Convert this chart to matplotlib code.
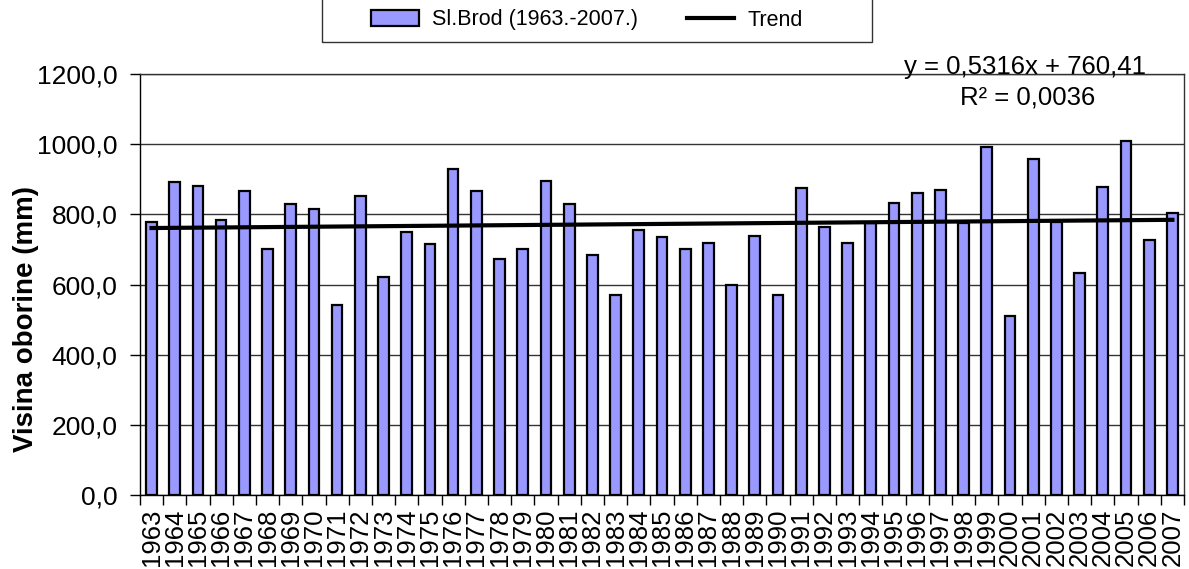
import numpy as np
import matplotlib
matplotlib.use('Agg')
from matplotlib import pyplot as plt
from matplotlib.patches import Rectangle

plt.rcParams['font.family'] = ['Liberation Sans', 'DejaVu Sans']

# yearly precipitation, Sl. Brod
years = list(range(1963, 2008))
precip = [779, 892, 881, 783, 867, 702, 830, 815, 541, 851,
          622, 749, 716, 928, 867, 672, 702, 895, 830, 683,
          570, 755, 735, 702, 719, 599, 738, 570, 876, 765,
          719, 774, 833, 862, 869, 776, 993, 510, 957, 779,
          632, 877, 1008, 727, 803]

# trend line from the chart label
slope = 0.5316
intercept = 760.41
eq_text = 'y = 0,5316x + 760,41'
r2_text = 'R² = 0,0036'

y_ticks = [0, 200, 400, 600, 800, 1000, 1200]

fig = plt.figure(figsize=(11.89, 5.69), dpi=100)
ax = fig.add_axes([0.1177, 0.130, 0.8781, 0.740])

x = np.arange(len(years))
bars = ax.bar(x, precip, width=0.46, color='#9999FF', edgecolor='black', linewidth=1.6,
              label='Sl.Brod (1963.-2007.)', zorder=3)
n = np.arange(1, len(years) + 1)
trend, = ax.plot(x, slope * n + intercept, color='black', linewidth=3, label='Trend', zorder=4)

ax.set_xlim(-0.5, len(years) - 0.5)
ax.set_ylim(0, 1200)
ax.set_yticks(y_ticks)
ax.set_yticklabels([f'{v:.1f}'.replace('.', ',') for v in y_ticks], fontsize=19)
ax.yaxis.grid(True, color='#333333', linewidth=1, zorder=0)
ax.tick_params(axis='y', direction='out', length=7, width=1, pad=9)

ax.set_xticks(x)
ax.set_xticklabels([str(yy) for yy in years], rotation=90, fontsize=18.5)
ax.tick_params(axis='x', which='major', length=0, pad=10)
ax.set_xticks(np.arange(-0.5, len(years), 1), minor=True)
ax.tick_params(axis='x', which='minor', direction='out', length=7, width=1)

for s in ax.spines.values():
    s.set_color('#333333')
    s.set_linewidth(1)
ax.spines['left'].set_color('black')
ax.spines['bottom'].set_color('black')

fig.text(26 / 1189, 1 - 319 / 569, 'Visina oborine (mm)', fontsize=20, fontweight='bold',
         rotation=90, ha='center', va='center')

ax.text(0.848, 1.016, eq_text, transform=ax.transAxes, fontsize=18.5, ha='center', va='center')
ax.text(0.850, 0.943, r2_text, transform=ax.transAxes, fontsize=18.5, ha='center', va='center')

fig.legend(handles=[bars, trend], loc='center', bbox_to_anchor=(587 / 1189, 1 - 20 / 569),
           ncol=2, fontsize=15.5, frameon=False, borderpad=0, handlelength=2.2,
           handleheight=0.7, handletextpad=0.6, columnspacing=2.3)
fig.add_artist(Rectangle((322 / 1189, 1 - 42 / 569), 550 / 1189, 0.2, transform=fig.transFigure,
                         fill=False, edgecolor='#333333', linewidth=1, clip_on=False))

plt.savefig('out.png', dpi=100)
